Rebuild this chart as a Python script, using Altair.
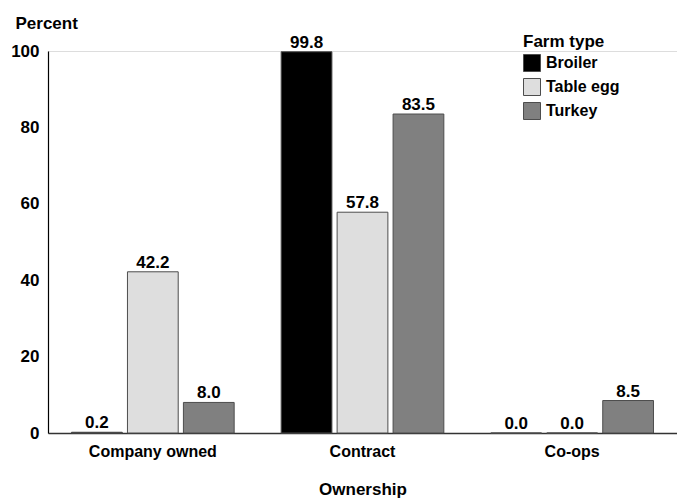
import altair as alt
import pandas as pd

ownership = ["Company owned", "Contract", "Co-ops"]
farm_types = ["Broiler", "Table egg", "Turkey"]
broiler = [0.2, 99.8, 0.0]
table_egg = [42.2, 57.8, 0.0]
turkey = [8.0, 83.5, 8.5]
colors = ["#000000", "#dedede", "#808080"]

rows = []
for i, own in enumerate(ownership):
    for ft, vals in zip(farm_types, [broiler, table_egg, turkey]):
        rows.append({"Ownership": own, "Farm type": ft, "Percent": vals[i],
                     "Label": f"{vals[i]:.1f}"})
df = pd.DataFrame(rows)

FONT = "Liberation Sans"

x_enc = alt.X("Ownership:N", sort=ownership,
              scale=alt.Scale(paddingInner=0, paddingOuter=0),
              axis=alt.Axis(title="Ownership", labelAngle=0, ticks=False,
                            labelPadding=10, labelFontSize=16, labelFont=FONT,
                            labelFontWeight="bold", labelColor="#000",
                            titleFontSize=17, titleFont=FONT, titleFontWeight="bold",
                            titleColor="#000", titleY=61, titleBaseline="alphabetic",
                            domainColor="#333", domainWidth=1.5))
xo_enc = alt.XOffset("Farm type:N", sort=farm_types,
                     scale=alt.Scale(paddingInner=0.093, paddingOuter=0.42))

bars = alt.Chart(df).mark_bar(stroke="#4d4d4d", strokeWidth=1).encode(
    x=x_enc,
    xOffset=xo_enc,
    y=alt.Y("Percent:Q", scale=alt.Scale(domain=[0, 100], nice=False),
            axis=alt.Axis(values=[0, 20, 40, 60, 80, 100], ticks=False, grid=False,
                          labelPadding=9, labelFontSize=17, labelFont=FONT,
                          labelFontWeight="bold", labelColor="#000",
                          title="Percent", titleAngle=0, titleAlign="left",
                          titleX=-33, titleY=-23, titleBaseline="alphabetic",
                          titleFontSize=17, titleFont=FONT, titleFontWeight="bold",
                          titleColor="#000", domainColor="#000", domainWidth=1.2)),
    color=alt.Color("Farm type:N", sort=farm_types,
                    scale=alt.Scale(domain=farm_types, range=colors),
                    legend=alt.Legend(title="Farm type", orient="none",
                                      legendX=475, legendY=-17,
                                      symbolType="square", symbolSize=289,
                                      symbolStrokeColor="#4d4d4d", symbolStrokeWidth=1,
                                      symbolOpacity=1,
                                      labelFontSize=16, labelFont=FONT,
                                      labelFontWeight="bold", labelColor="#000",
                                      labelOffset=5, rowPadding=2, padding=0,
                                      titleFontSize=17, titleFont=FONT,
                                      titleFontWeight="bold", titleColor="#000",
                                      titlePadding=3)),
)

labels = alt.Chart(df).mark_text(baseline="alphabetic", dy=-4, fontSize=17,
                                 font=FONT, fontWeight="bold", color="#000").encode(
    x=alt.X("Ownership:N", sort=ownership),
    xOffset=alt.XOffset("Farm type:N", sort=farm_types),
    y=alt.Y("Percent:Q"),
    text="Label:N",
)

chart = alt.layer(bars, labels).properties(
    width=629, height=382,
    autosize=alt.AutoSizeParams(type="none"),
    padding={"left": 40, "top": 43, "right": 0, "bottom": 66},
).configure_view(stroke=None).configure(background="white")

chart.save("out.html", embed_options={"renderer": "svg", "actions": False})
